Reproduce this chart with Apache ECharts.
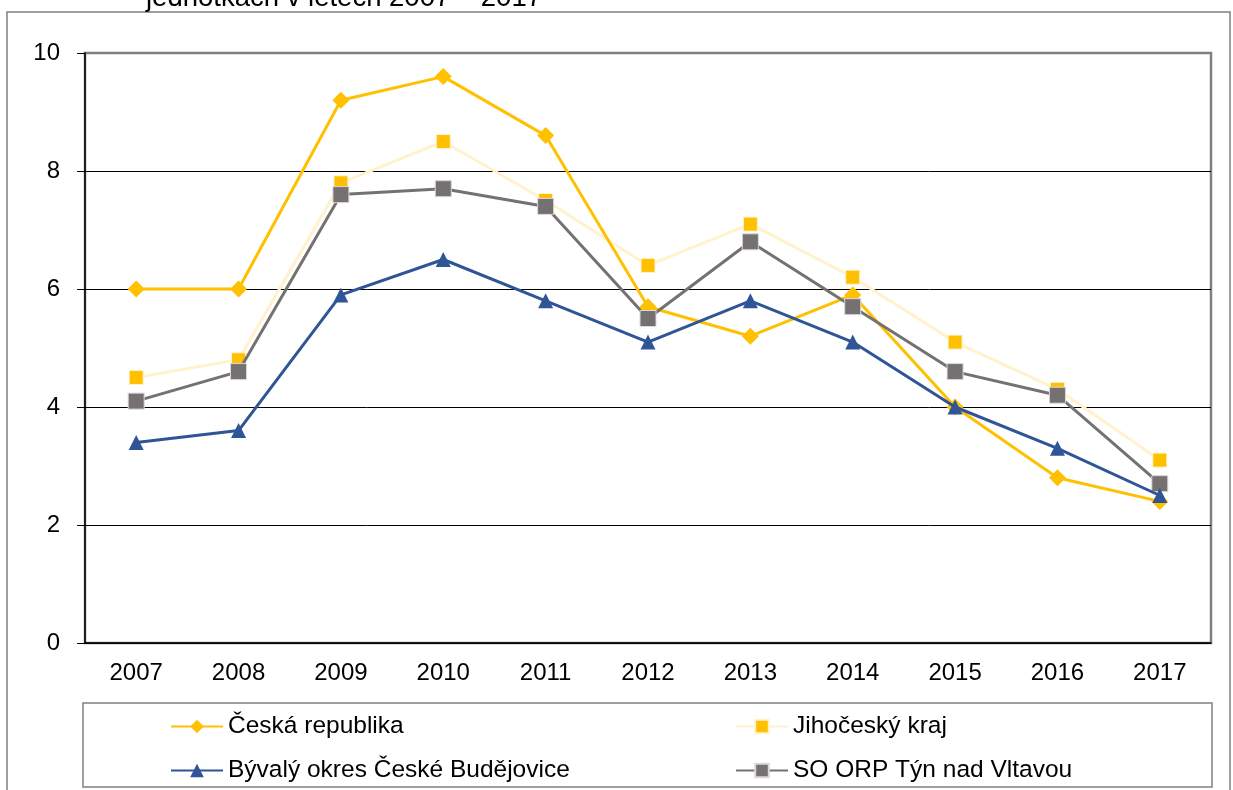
<!DOCTYPE html>
<html>
<head>
<meta charset="utf-8">
<script src="https://cdn.jsdelivr.net/npm/echarts@6/dist/echarts.min.js"></script>
<style>
  html, body { margin: 0; padding: 0; background: #fff; }
  #chart { width: 1233px; height: 790px; }
</style>
</head>
<body>
<div id="chart"></div>
<script>
// roky a hodnoty
const years = ['2007', '2008', '2009', '2010', '2011', '2012', '2013', '2014', '2015', '2016', '2017'];
const ceskaRepublika = [6.0, 6.0, 9.2, 9.6, 8.6, 5.7, 5.2, 5.9, 4.0, 2.8, 2.4];
const jihoceskyKraj = [4.5, 4.8, 7.8, 8.5, 7.5, 6.4, 7.1, 6.2, 5.1, 4.3, 3.1];
const okresCB = [3.4, 3.6, 5.9, 6.5, 5.8, 5.1, 5.8, 5.1, 4.0, 3.3, 2.5];
const orpTyn = [4.1, 4.6, 7.6, 7.7, 7.4, 5.5, 6.8, 5.7, 4.6, 4.2, 2.7];

const font = 'Liberation Sans, Arial, sans-serif';

let myChart = echarts.init(document.getElementById('chart'));
let option = {
    animation: false,
    title: {
        text: 'jednotkách v letech 2007 – 2017',
        left: 141,
        top: -21,
        textStyle: { fontFamily: font, fontSize: 27.5, fontWeight: 'normal', color: '#000' }
    },
    graphic: [
        {
            type: 'rect',
            shape: { x: 7, y: 12, width: 1223, height: 800 },
            style: { fill: 'none', stroke: '#808080', lineWidth: 1.5 },
            silent: true
        },
        {
            type: 'rect',
            shape: { x: 83, y: 703, width: 1129, height: 84 },
            style: { fill: 'none', stroke: '#808080', lineWidth: 1.5 },
            silent: true
        }
    ],
    grid: {
        left: 85, right: 22, top: 53, bottom: 147,
        show: true,
        borderColor: '#808080',
        borderWidth: 2.5
    },
    legend: [
        {
            left: 165, top: 709,
            width: 500, height: 120,
            orient: 'vertical',
            itemGap: 19,
            itemWidth: 52, itemHeight: 17,
            textStyle: { fontFamily: font, fontSize: 24.5, color: '#000' },
            data: ['Česká republika', 'Bývalý okres České Budějovice']
        },
        {
            left: 730, top: 709,
            width: 450, height: 120,
            orient: 'vertical',
            itemGap: 19,
            itemWidth: 52, itemHeight: 17,
            textStyle: { fontFamily: font, fontSize: 24.5, color: '#000' },
            data: ['Jihočeský kraj', 'SO ORP Týn nad Vltavou']
        }
    ],
    xAxis: {
        type: 'category',
        data: years,
        boundaryGap: true,
        axisLine: { lineStyle: { color: '#000', width: 1.5 } },
        axisTick: { length: 6, lineStyle: { color: '#000' } },
        axisLabel: { fontFamily: font, fontSize: 24, color: '#000', margin: 18 }
    },
    yAxis: {
        type: 'value',
        min: 0, max: 10, interval: 2,
        axisLine: { show: true, lineStyle: { color: '#000', width: 1.5 } },
        axisTick: { show: true, length: 8, lineStyle: { color: '#000' } },
        axisLabel: { fontFamily: font, fontSize: 24, color: '#000', margin: 25 },
        splitLine: { lineStyle: { color: ['#000', '#000', '#000', '#000', '#000', '#808080'], width: 1 } }
    },
    series: [
        {
            name: 'Česká republika',
            type: 'line',
            data: ceskaRepublika,
            symbol: 'diamond',
            symbolSize: 17,
            lineStyle: { color: '#FFC000', width: 3 },
            itemStyle: { color: '#FFC000' },
            z: 2
        },
        {
            name: 'Jihočeský kraj',
            type: 'line',
            data: jihoceskyKraj,
            symbol: 'rect',
            symbolSize: 14,
            lineStyle: { color: '#FFF2CC', width: 3 },
            itemStyle: { color: '#FFC000', borderColor: '#FFF2CC', borderWidth: 1 },
            z: 1
        },
        {
            name: 'Bývalý okres České Budějovice',
            type: 'line',
            data: okresCB,
            symbol: 'triangle',
            symbolSize: 15,
            lineStyle: { color: '#2F5597', width: 3 },
            itemStyle: { color: '#2F5597' },
            z: 4
        },
        {
            name: 'SO ORP Týn nad Vltavou',
            type: 'line',
            data: orpTyn,
            symbol: 'rect',
            symbolSize: 16,
            lineStyle: { color: '#767171', width: 3 },
            itemStyle: { color: '#767171', borderColor: '#d9d9d9', borderWidth: 1 },
            z: 3
        }
    ]
};
myChart.setOption(option);
</script>
</body>
</html>
